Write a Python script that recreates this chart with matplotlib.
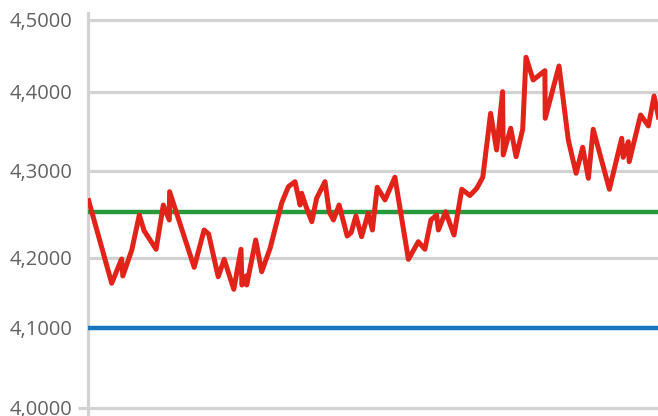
import numpy as np
import matplotlib
matplotlib.use("Agg")
import matplotlib.pyplot as plt
from matplotlib.ticker import FuncFormatter

# ---- data ----
days = [0.0, 7.9, 11.2, 11.6, 14.6, 17.1, 18.7, 22.7, 25.1, 27.1, 27.2, 35.4,
        38.7, 40.2, 43.4, 45.4, 48.6, 51.0, 51.3, 52.7, 52.9, 55.9, 57.9,
        60.7, 64.6, 66.8, 69.0, 70.7, 71.2, 72.7, 74.6, 76.2, 79.0, 80.4,
        81.8, 83.7, 86.4, 87.7, 89.3, 91.2, 93.4, 94.8, 96.4, 99.0, 102.3,
        106.8, 110.1, 112.3, 114.3, 116.2, 116.8, 119.2, 122.0, 124.6, 127.3,
        129.6, 131.6, 134.2, 136.2, 138.2, 138.4, 140.9, 142.7, 144.9, 146.0,
        148.4, 152.3, 152.4, 157.0, 160.1, 162.7, 164.9, 166.8, 168.4, 173.8,
        177.9, 178.4, 180.1, 180.4, 184.2, 186.8, 188.7, 190.5]
rate = [4.2686, 4.1639, 4.1986, 4.1743, 4.2092, 4.2494, 4.2314, 4.2100,
        4.2609, 4.2437, 4.2762, 4.1867, 4.2322, 4.2276, 4.1733, 4.1981,
        4.1553, 4.2100, 4.1614, 4.1743, 4.1614, 4.2207, 4.1804, 4.2111,
        4.2636, 4.2820, 4.2877, 4.2609, 4.2744, 4.2590, 4.2417, 4.2686,
        4.2877, 4.2532, 4.2437, 4.2609, 4.2253, 4.2291, 4.2483, 4.2245,
        4.2514, 4.2322, 4.2813, 4.2667, 4.2928, 4.1981, 4.2187, 4.2100,
        4.2437, 4.2494, 4.2322, 4.2532, 4.2264, 4.2790, 4.2718, 4.2801,
        4.2928, 4.3730, 4.3266, 4.4004, 4.3203, 4.3541, 4.3181, 4.3528,
        4.4482, 4.4167, 4.4296, 4.3667, 4.4361, 4.3392, 4.2974, 4.3300,
        4.2916, 4.3528, 4.2790, 4.3414, 4.3173, 4.3371, 4.3118, 4.3709,
        4.3570, 4.3949, 4.3620]
upper_level = 4.2529
lower_level = 4.1
y_ticks = [4.0, 4.1, 4.2, 4.3, 4.4, 4.5]

# ---- axis scale (the reference uses uneven tick spacing) ----
scale_vals = np.array([3.9, 4.0, 4.1, 4.2, 4.3, 4.4, 4.5, 4.6])
scale_pos = np.array([-80.0, 0.0, 80.0, 150.0, 237.0, 316.0, 388.0, 460.0])

def fwd(v):
    return np.interp(v, scale_vals, scale_pos)

def inv(p):
    return np.interp(p, scale_pos, scale_vals)

W, H = 658, 416
fig = plt.figure(figsize=(W / 100, H / 100), dpi=100)
ax = fig.add_axes([88 / W, 0, 1 - 88 / W, 403 / H])
ax.set_yscale('function', functions=(fwd, inv))

grid_c = '#d2d2d2'
ax.set_xlim(0, 190)
ax.set_ylim(3.99, 4.5097)
ax.set_yticks(y_ticks)
ax.yaxis.set_major_formatter(FuncFormatter(lambda v, p: f"{v:.4f}".replace('.', ',')))
ax.set_xticks([])
ax.yaxis.grid(True, color=grid_c, linewidth=2.3)
ax.set_axisbelow(True)
for s in ['top', 'right', 'bottom']:
    ax.spines[s].set_visible(False)
ax.spines['left'].set_color(grid_c)
ax.spines['left'].set_linewidth(2.3)
ax.tick_params(axis='y', length=0, pad=11, labelsize=14.5, labelcolor='#626262')
for lab in ax.get_yticklabels():
    lab.set_fontfamily('Open Sans')

# small tick on the baseline extending left of the axis
ax.plot([-0.018, 0.0], [4.0, 4.0], transform=ax.get_yaxis_transform(),
        color=grid_c, linewidth=2.3, clip_on=False, solid_capstyle='butt')

ax.axhline(lower_level, color='#1a75bc', linewidth=3.2, zorder=3)
ax.axhline(upper_level, color='#26993a', linewidth=3.2, zorder=3)
ax.plot(days, rate, color='#e2231a', linewidth=3.6, zorder=4,
        solid_joinstyle='round', solid_capstyle='butt', clip_on=True)

fig.savefig('out.png', dpi=100)
